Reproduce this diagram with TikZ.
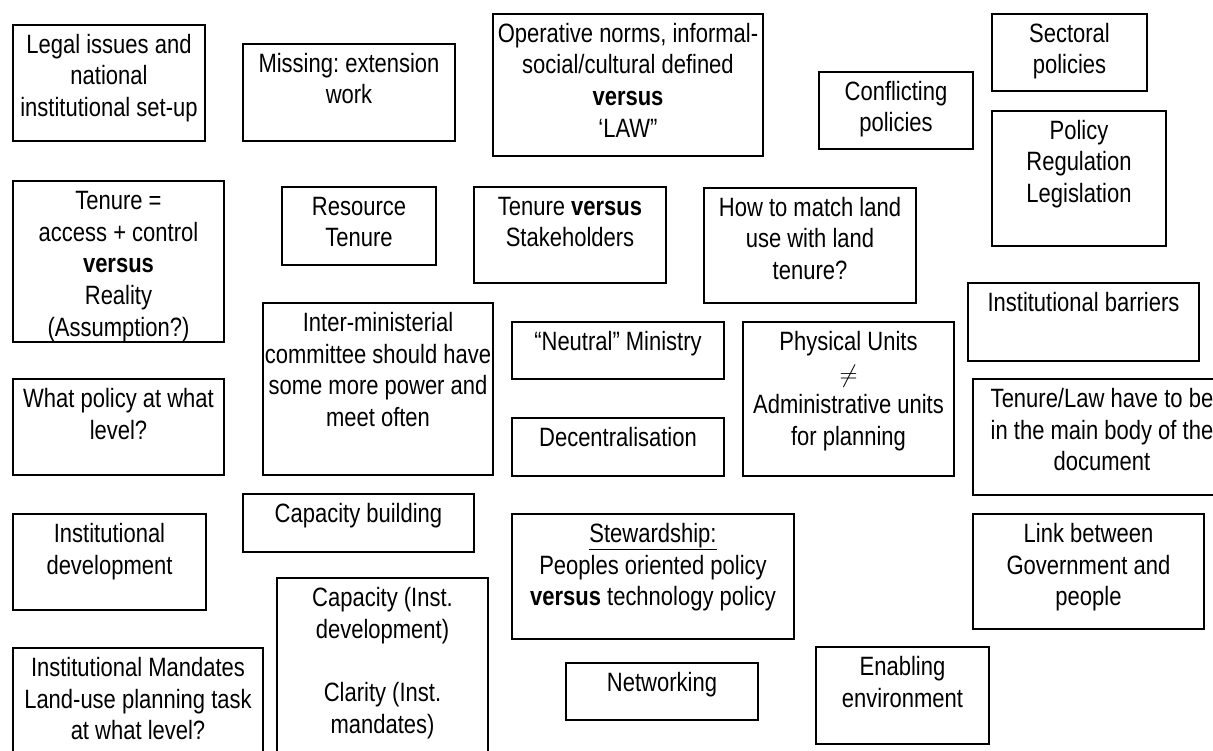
\documentclass[tikz,border=0pt]{standalone}
\usepackage{fontspec}
\setmainfont{Liberation Sans}[FakeStretch=0.83]
\frenchspacing
\newcommand\firststrut{\rule{0pt}{22pt}}
\tikzset{
  box/.style={draw, line width=1.8pt, inner sep=0pt, outer sep=0pt},
  txt/.style={anchor=north, inner sep=0pt, align=center,
              font=\fontsize{26.5}{31.8}\selectfont}
}
% \notebox{name}{left}{top}{right}{bottom}{text}: a framed note, text set at its top
\newcommand\notebox[6]{%
  \node[box, minimum width={#4-#2}, minimum height={#5-#3}] (#1)
       at ({(#2+#4)/2},{(#3+#5)/2}) {};
  \node[txt] (#1-t) at ({(#2+#4)/2},{#3+6}) {\firststrut#6};
}
\begin{document}
\begin{tikzpicture}[x=1pt, y=-1pt]
\useasboundingbox (0,0) rectangle (1213,751);
\clip (0,0) rectangle (1213,751);

\notebox{legal}{13}{25}{205}{141}{Legal issues and\\national\\institutional set-up}
\notebox{missing}{243}{44}{455}{141}{Missing: extension\\work}
\notebox{operative}{493}{14}{763}{156}{Operative norms, informal-\\social/cultural defined\\\textbf{versus}\\‘LAW”}
\notebox{conflicting}{819}{72}{973}{149}{Conflicting\\policies}
\notebox{sectoral}{992}{14}{1147}{91}{Sectoral\\policies}
\notebox{policy}{992}{111}{1166}{246}{Policy\\Regulation\\Legislation}

\notebox{tenure}{13}{181}{224}{342}{Tenure =\\access + control\\\textbf{versus}\\Reality\\(Assumption?)}
\notebox{resource}{282}{187}{436}{265}{Resource\\Tenure}
\notebox{tenvs}{474}{187}{666}{283}{Tenure \textbf{versus}\\Stakeholders}
\notebox{howto}{704}{188}{916}{303}{How to match land\\use with land\\tenure?}
\notebox{barriers}{968}{283}{1199}{361}{Institutional barriers}

\notebox{whatpol}{13}{379}{224}{475}{What policy at what\\level?}
\notebox{intermin}{263}{303}{493}{475}{Inter-ministerial\\committee should have\\some more power and\\meet often}
\notebox{neutral}{512}{322}{724}{379}{“Neutral” Ministry}
\notebox{decentral}{512}{418}{724}{476}{Decentralisation}
\notebox{physical}{743}{322}{954}{476}{Physical Units\\$\neq$\\Administrative units\\for planning}
\notebox{tenlaw}{973}{379}{1231}{495}{Tenure/Law have to be\\in the main body of the\\document}

\notebox{instdev}{13}{514}{206}{610}{Institutional\\development}
\notebox{capbuild}{243}{494}{474}{552}{Capacity building}
\notebox{steward}{512}{514}{794}{639}{\underline{Stewardship:}\\Peoples oriented policy\\\textbf{versus} technology policy}
\notebox{link}{973}{514}{1204}{629}{Link between\\Government and\\people}

\notebox{capinst}{277}{578}{488}{790}{Capacity (Inst.\\development)\\[31.8pt]Clarity (Inst.\\mandates)}
\notebox{mandates}{13}{648}{263}{790}{Institutional Mandates\\Land-use planning task\\at what level?}
\notebox{networking}{566}{663}{758}{720}{Networking}
\notebox{enabling}{816}{647}{989}{744}{Enabling\\environment}
\end{tikzpicture}
\end{document}
